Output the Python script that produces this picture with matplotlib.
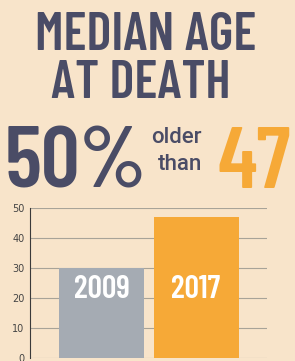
import matplotlib
matplotlib.use('Agg')
import matplotlib.pyplot as plt

# data
years = ['2009', '2017']
median_age = [30, 47]
bar_colors = ['#a5abb3', '#f6a937']
yticks = [0, 10, 20, 30, 40, 50]

bg = '#f8e4ca'
dark = '#4a4c66'
orange = '#f6a937'
cond = ['Barlow Condensed', 'DejaVu Sans']
body = ['Roboto', 'DejaVu Sans']

W, H = 295, 361
fig = plt.figure(figsize=(W / 100, H / 100), dpi=100)
fig.patch.set_facecolor(bg)

def px(x, y):
    return x / W, 1 - y / H

# headline, baseline positions in pixels
fig.text(*px(146, 50), 'MEDIAN AGE', ha='center', va='baseline', fontsize=38,
         fontweight='semibold', color=dark, family=cond)
fig.text(*px(141, 98), 'AT DEATH', ha='center', va='baseline', fontsize=38,
         fontweight='semibold', color=dark, family=cond)
fig.text(*px(76, 187), '50%', ha='center', va='baseline', fontsize=62,
         fontweight='semibold', color=dark, family=cond)
fig.text(*px(176, 143), 'older', ha='center', va='baseline', fontsize=16,
         fontweight='medium', color=dark, family=body)
fig.text(*px(180, 170), 'than', ha='center', va='baseline', fontsize=16,
         fontweight='medium', color=dark, family=body)
fig.text(*px(254, 188), '47', ha='center', va='baseline', fontsize=62,
         fontweight='semibold', color=orange, family=cond)

# bar chart
ax = fig.add_axes([30 / W, 1 - 358 / H, 237 / W, 150 / H])
ax.set_facecolor(bg)
ax.bar(range(len(years)), median_age, width=0.9, color=bar_colors, zorder=2)
for i, yr in enumerate(years):
    ax.text(i, 20, yr, ha='center', va='baseline', fontsize=23, fontweight='semibold',
            color='white', family=cond, zorder=3)
ax.set_xlim(-0.757, 1.751)
ax.set_ylim(0, 50)
ax.set_yticks(yticks)
ax.yaxis.grid(True, color='#a8a398', linewidth=0.8, zorder=0)
ax.set_xticks([])
for s in ['top', 'right', 'bottom']:
    ax.spines[s].set_visible(False)
ax.spines['left'].set_color('#3a3a3a')
ax.spines['left'].set_linewidth(0.8)
ax.tick_params(axis='y', length=0, labelsize=7, labelcolor='#444444', pad=4)

plt.savefig('out.png', dpi=100, facecolor=bg)
